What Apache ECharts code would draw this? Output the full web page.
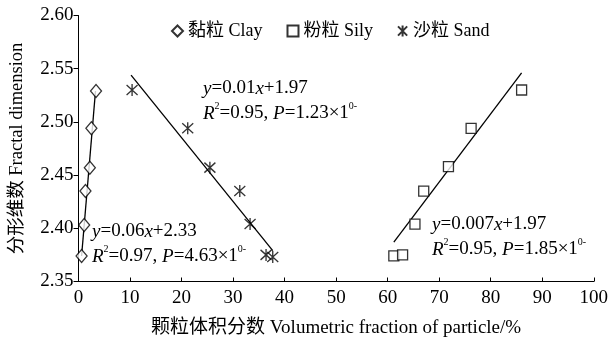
<!DOCTYPE html>
<html>
<head>
<meta charset="utf-8">
<script src="https://cdn.jsdelivr.net/npm/echarts@6/dist/echarts.min.js"></script>
<style>
  html, body { margin: 0; padding: 0; background: #fff; }
  #chart { width: 611px; height: 343px; }
</style>
</head>
<body>
<div id="chart"></div>
<script>
// Volumetric fraction (%) vs. fractal dimension for three particle classes
const clayX = [0.6, 1.1, 1.35, 2.2, 2.5, 3.4];
const clayY = [2.374, 2.403, 2.435, 2.457, 2.494, 2.529];
const siltX = [61.2, 62.9, 65.3, 67.0, 71.8, 76.2, 86.0];
const siltY = [2.374, 2.375, 2.404, 2.435, 2.458, 2.494, 2.530];
const sandX = [10.4, 21.2, 25.5, 31.3, 33.3, 36.4, 37.7];
const sandY = [2.530, 2.494, 2.457, 2.435, 2.404, 2.375, 2.373];

// Fitted trend lines: [x0, x1] and [y0, y1]
const clayFitX = [0.6, 3.3];
const clayFitY = [2.374, 2.529];
const siltFitX = [61.2, 86.0];
const siltFitY = [2.387, 2.546];
const sandFitX = [10.2, 37.7];
const sandFitY = [2.544, 2.379];

const xTicks = [0, 10, 20, 30, 40, 50, 60, 70, 80, 90, 100];
const yTicks = [2.35, 2.40, 2.45, 2.50, 2.55, 2.60];

const seriesNames = ['黏粒 Clay', '粉粒 Sily', '沙粒 Sand'];

const FONT = '"Liberation Serif", "Noto Sans CJK SC", serif';
const starPath = 'path://M5,0L5,12M0,1L10,11M0,11L10,1';

function pairs(xs, ys) { return xs.map((x, i) => [x, ys[i]]); }

const markStyle = { color: '#fff', borderColor: '#000', borderWidth: 1.3 };

function fitLine(xs, ys) {
  return {
    type: 'line', data: pairs(xs, ys), symbol: 'none', silent: true,
    lineStyle: { color: '#000', width: 1.3 }, z: 1
  };
}

const eqRich = {
  i: { fontFamily: FONT, fontStyle: 'italic', fontSize: 19, color: '#000' },
  n: { fontFamily: FONT, fontSize: 19, color: '#000' },
  s: { fontFamily: FONT, fontSize: 10, color: '#000', verticalAlign: 'top', padding: [0, 0, 10, 0] }
};

function eqText(a, b, r2, p) {
  return '{i|y}{n|=' + a + '}{i|x}{n|+' + b + '}\n' +
         '{i|R}{s|2}{n|=' + r2 + ', }{i|P}{n|=' + p + '×1}{s|0-}';
}

function note(left, top, txt) {
  return {
    type: 'text', left: left, top: top, z: 10,
    style: { text: txt, rich: eqRich, lineHeight: 25, fill: '#000' }
  };
}

const chart = echarts.init(document.getElementById('chart'), null, { renderer: 'canvas' });
chart.setOption({
  backgroundColor: '#fff',
  animation: false,
  grid: { left: 78, right: 14, top: 15.5, bottom: 61.5, containLabel: false },
  legend: {
    top: 17, left: 166,
    itemWidth: 11, itemHeight: 11, itemGap: 24,
    textStyle: { fontFamily: FONT, fontSize: 18, color: '#000' },
    data: seriesNames
  },
  xAxis: {
    type: 'value', min: 0, max: 100, interval: 10,
    name: '颗粒体积分数 Volumetric fraction of particle/%',
    nameLocation: 'middle', nameGap: 37,
    nameTextStyle: { fontFamily: FONT, fontSize: 19, color: '#000' },
    axisLine: { show: true, lineStyle: { color: '#000', width: 1 } },
    axisTick: { show: true, inside: true, length: 4, lineStyle: { color: '#000' } },
    axisLabel: { fontFamily: FONT, fontSize: 19, color: '#000', margin: 7,
      formatter: v => xTicks.includes(v) ? String(v) : '' },
    splitLine: { show: false }
  },
  yAxis: {
    type: 'value', min: 2.35, max: 2.60, interval: 0.05,
    name: '分形维数 Fractal dimension',
    nameLocation: 'middle', nameGap: 52, nameRotate: 90,
    nameTextStyle: { fontFamily: FONT, fontSize: 18.5, color: '#000' },
    axisLine: { show: true, lineStyle: { color: '#000', width: 1 } },
    axisTick: { show: true, inside: false, length: 5, lineStyle: { color: '#000' } },
    axisLabel: { fontFamily: FONT, fontSize: 19, color: '#000', margin: 5,
      formatter: v => {
        const t = yTicks.find(k => Math.abs(k - v) < 1e-6);
        return t !== undefined ? t.toFixed(2) : '';
      } },
    splitLine: { show: false }
  },
  series: [
    { name: seriesNames[0], type: 'scatter', data: pairs(clayX, clayY),
      symbol: 'diamond', symbolSize: [11, 13], itemStyle: markStyle, z: 3 },
    { name: seriesNames[1], type: 'scatter', data: pairs(siltX, siltY),
      symbol: 'rect', symbolSize: 10, itemStyle: markStyle, z: 3 },
    { name: seriesNames[2], type: 'scatter', data: pairs(sandX, sandY),
      symbol: starPath, symbolSize: [11, 12],
      itemStyle: { color: 'rgba(0,0,0,0)', borderColor: '#000', borderWidth: 1.4 }, z: 3 },
    fitLine(clayFitX, clayFitY),
    fitLine(siltFitX, siltFitY),
    fitLine(sandFitX, sandFitY)
  ],
  graphic: [
    note(203, 76, eqText('0.01', '1.97', '0.95', '1.23')),
    note(92, 219, eqText('0.06', '2.33', '0.97', '4.63')),
    note(432, 212, eqText('0.007', '1.97', '0.95', '1.85'))
  ]
});
</script>
</body>
</html>
